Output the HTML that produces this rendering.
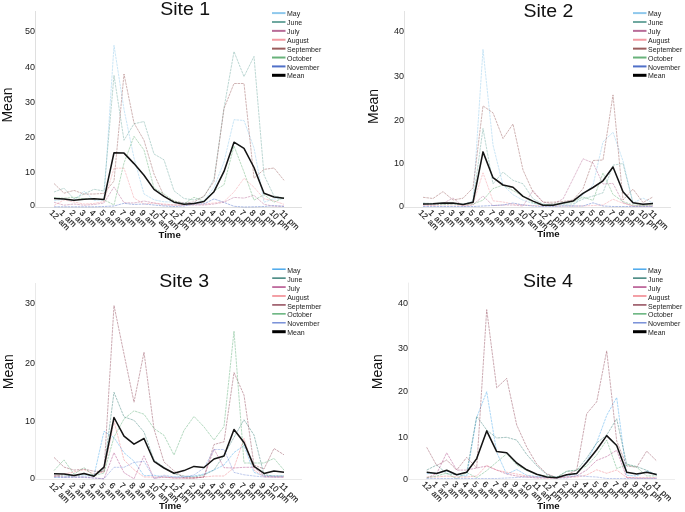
<!DOCTYPE html><html><head><meta charset="utf-8"><style>html,body{margin:0;padding:0;background:#fff;}svg{display:block;will-change:transform;}text{font-family:"Liberation Sans",sans-serif;}</style></head><body>
<svg width="685" height="512" viewBox="0 0 685 512">
<rect width="685" height="512" fill="#fff"/>
<g><line x1="35.5" y1="11" x2="35.5" y2="207.5" stroke="#dfdfdf" stroke-width="1"/><line x1="35.5" y1="207.5" x2="302" y2="207.5" stroke="#dfdfdf" stroke-width="1"/><text x="185.1" y="14.7" font-size="18.8" text-anchor="middle" textLength="49.9" lengthAdjust="spacingAndGlyphs" fill="#111">Site 1</text><text x="35.1" y="207.70" font-size="9" text-anchor="end" fill="#1a1a1a">0</text><text x="35.1" y="174.90" font-size="9" text-anchor="end" fill="#1a1a1a">10</text><text x="35.1" y="140.10" font-size="9" text-anchor="end" fill="#1a1a1a">20</text><text x="35.1" y="105.20" font-size="9" text-anchor="end" fill="#1a1a1a">30</text><text x="35.1" y="70.20" font-size="9" text-anchor="end" fill="#1a1a1a">40</text><text x="35.1" y="34.10" font-size="9" text-anchor="end" fill="#1a1a1a">50</text><text transform="translate(12.0,105.05) rotate(-90)" font-size="14" text-anchor="middle" fill="#111">Mean</text><text x="169.6" y="237.8" font-size="8.6" font-weight="bold" text-anchor="middle" textLength="22.3" lengthAdjust="spacingAndGlyphs" fill="#111">Time</text><text transform="translate(49.00,213.30) rotate(45)" font-size="8.4" word-spacing="1.3" fill="#111" stroke="#111" stroke-width="0.12">12 am</text><text transform="translate(59.00,213.30) rotate(45)" font-size="8.4" word-spacing="1.3" fill="#111" stroke="#111" stroke-width="0.12">1 am</text><text transform="translate(69.00,213.30) rotate(45)" font-size="8.4" word-spacing="1.3" fill="#111" stroke="#111" stroke-width="0.12">2 am</text><text transform="translate(79.00,213.30) rotate(45)" font-size="8.4" word-spacing="1.3" fill="#111" stroke="#111" stroke-width="0.12">3 am</text><text transform="translate(89.00,213.30) rotate(45)" font-size="8.4" word-spacing="1.3" fill="#111" stroke="#111" stroke-width="0.12">4 am</text><text transform="translate(99.00,213.30) rotate(45)" font-size="8.4" word-spacing="1.3" fill="#111" stroke="#111" stroke-width="0.12">5 am</text><text transform="translate(109.00,213.30) rotate(45)" font-size="8.4" word-spacing="1.3" fill="#111" stroke="#111" stroke-width="0.12">6 am</text><text transform="translate(119.00,213.30) rotate(45)" font-size="8.4" word-spacing="1.3" fill="#111" stroke="#111" stroke-width="0.12">7 am</text><text transform="translate(129.00,213.30) rotate(45)" font-size="8.4" word-spacing="1.3" fill="#111" stroke="#111" stroke-width="0.12">8 am</text><text transform="translate(139.00,213.30) rotate(45)" font-size="8.4" word-spacing="1.3" fill="#111" stroke="#111" stroke-width="0.12">9 am</text><text transform="translate(149.00,213.30) rotate(45)" font-size="8.4" word-spacing="1.3" fill="#111" stroke="#111" stroke-width="0.12">10 am</text><text transform="translate(159.00,213.30) rotate(45)" font-size="8.4" word-spacing="1.3" fill="#111" stroke="#111" stroke-width="0.12">11 am</text><text transform="translate(169.00,213.30) rotate(45)" font-size="8.4" word-spacing="1.3" fill="#111" stroke="#111" stroke-width="0.12">12 pm</text><text transform="translate(179.00,213.30) rotate(45)" font-size="8.4" word-spacing="1.3" fill="#111" stroke="#111" stroke-width="0.12">1 pm</text><text transform="translate(189.00,213.30) rotate(45)" font-size="8.4" word-spacing="1.3" fill="#111" stroke="#111" stroke-width="0.12">2 pm</text><text transform="translate(199.00,213.30) rotate(45)" font-size="8.4" word-spacing="1.3" fill="#111" stroke="#111" stroke-width="0.12">3 pm</text><text transform="translate(209.00,213.30) rotate(45)" font-size="8.4" word-spacing="1.3" fill="#111" stroke="#111" stroke-width="0.12">4 pm</text><text transform="translate(219.00,213.30) rotate(45)" font-size="8.4" word-spacing="1.3" fill="#111" stroke="#111" stroke-width="0.12">5 pm</text><text transform="translate(229.00,213.30) rotate(45)" font-size="8.4" word-spacing="1.3" fill="#111" stroke="#111" stroke-width="0.12">6 pm</text><text transform="translate(239.00,213.30) rotate(45)" font-size="8.4" word-spacing="1.3" fill="#111" stroke="#111" stroke-width="0.12">7 pm</text><text transform="translate(249.00,213.30) rotate(45)" font-size="8.4" word-spacing="1.3" fill="#111" stroke="#111" stroke-width="0.12">8 pm</text><text transform="translate(259.00,213.30) rotate(45)" font-size="8.4" word-spacing="1.3" fill="#111" stroke="#111" stroke-width="0.12">9 pm</text><text transform="translate(269.00,213.30) rotate(45)" font-size="8.4" word-spacing="1.3" fill="#111" stroke="#111" stroke-width="0.12">10 pm</text><text transform="translate(279.00,213.30) rotate(45)" font-size="8.4" word-spacing="1.3" fill="#111" stroke="#111" stroke-width="0.12">11 pm</text><line x1="272" y1="13.10" x2="285.5" y2="13.10" stroke="#8ec8ec" stroke-width="2"/><text x="287" y="16.20" font-size="7" fill="#222">May</text><line x1="272" y1="21.99" x2="285.5" y2="21.99" stroke="#6fa8a0" stroke-width="2"/><text x="287" y="25.09" font-size="7" fill="#222">June</text><line x1="272" y1="30.87" x2="285.5" y2="30.87" stroke="#b86c98" stroke-width="2"/><text x="287" y="33.97" font-size="7" fill="#222">July</text><line x1="272" y1="39.76" x2="285.5" y2="39.76" stroke="#f29aa2" stroke-width="2"/><text x="287" y="42.86" font-size="7" fill="#222">August</text><line x1="272" y1="48.64" x2="285.5" y2="48.64" stroke="#9a5c5c" stroke-width="2"/><text x="287" y="51.74" font-size="7" fill="#222">September</text><line x1="272" y1="57.53" x2="285.5" y2="57.53" stroke="#68b27a" stroke-width="2"/><text x="287" y="60.63" font-size="7" fill="#222">October</text><line x1="272" y1="66.42" x2="285.5" y2="66.42" stroke="#5070c8" stroke-width="2"/><text x="287" y="69.52" font-size="7" fill="#222">November</text><line x1="272" y1="75.30" x2="285.5" y2="75.30" stroke="#000" stroke-width="3"/><text x="287" y="78.40" font-size="7" fill="#222">Mean</text><polyline points="54.0,200.8 64.0,199.3 74.0,200.8 84.0,191.1 94.0,200.4 104.0,200.0 114.0,45.3 124.0,109.4 134.0,158.0 144.0,194.0 154.0,199.8 164.0,201.8 174.0,202.0 184.0,203.0 194.0,203.0 204.0,201.0 214.0,187.3 224.0,162.0 234.0,119.7 244.0,120.5 254.0,148.0 264.0,202.2 274.0,198.8 284.0,198.8" fill="none" stroke="#8ec8ec" stroke-width="0.85" stroke-opacity="0.55" stroke-dasharray="2.6 0.8" stroke-linejoin="round"/><polyline points="54.0,192.0 64.0,188.2 74.0,198.8 84.0,194.0 94.0,189.3 104.0,191.0 114.0,75.3 124.0,140.3 134.0,123.8 144.0,121.5 154.0,154.0 164.0,159.8 174.0,190.8 184.0,198.5 194.0,200.0 204.0,196.9 214.0,179.0 224.0,108.0 234.0,51.6 244.0,76.6 254.0,56.4 264.0,175.0 274.0,196.0 284.0,198.0" fill="none" stroke="#6fa8a0" stroke-width="0.85" stroke-opacity="0.55" stroke-dasharray="2.6 0.8" stroke-linejoin="round"/><polyline points="54.0,202.3 64.0,205.2 74.0,204.0 84.0,205.2 94.0,204.5 104.0,203.0 114.0,186.9 124.0,202.7 134.0,203.0 144.0,201.0 154.0,203.0 164.0,205.0 174.0,205.0 184.0,205.0 194.0,205.0 204.0,205.0 214.0,204.0 224.0,202.2 234.0,197.4 244.0,198.1 254.0,195.4 264.0,204.3 274.0,206.3 284.0,206.0" fill="none" stroke="#b86c98" stroke-width="0.85" stroke-opacity="0.55" stroke-dasharray="2.6 0.8" stroke-linejoin="round"/><polyline points="54.0,205.5 64.0,199.9 74.0,202.0 84.0,204.0 94.0,203.5 104.0,201.6 114.0,168.2 124.0,168.2 134.0,198.0 144.0,204.0 154.0,203.0 164.0,204.0 174.0,205.0 184.0,205.0 194.0,204.0 204.0,204.0 214.0,203.0 224.0,201.6 234.0,192.0 244.0,178.3 254.0,187.2 264.0,198.8 274.0,200.9 284.0,204.3" fill="none" stroke="#f29aa2" stroke-width="0.85" stroke-opacity="0.55" stroke-dasharray="2.6 0.8" stroke-linejoin="round"/><polyline points="54.0,183.5 64.0,193.2 74.0,190.4 84.0,194.1 94.0,194.0 104.0,193.4 114.0,181.0 124.0,74.0 134.0,123.0 144.0,140.3 154.0,174.0 164.0,196.0 174.0,201.0 184.0,203.0 194.0,202.0 204.0,196.0 214.0,181.5 224.0,108.5 234.0,83.5 244.0,83.5 254.0,178.3 264.0,169.4 274.0,168.0 284.0,180.3" fill="none" stroke="#9a5c5c" stroke-width="0.85" stroke-opacity="0.55" stroke-dasharray="2.6 0.8" stroke-linejoin="round"/><polyline points="54.0,197.6 64.0,198.2 74.0,197.3 84.0,198.8 94.0,198.5 104.0,199.8 114.0,205.0 124.0,163.0 134.0,136.3 144.0,150.0 154.0,188.0 164.0,194.0 174.0,201.0 184.0,203.9 194.0,197.3 204.0,201.3 214.0,191.0 224.0,184.8 234.0,146.0 244.0,172.0 254.0,200.2 264.0,194.7 274.0,202.2 284.0,197.4" fill="none" stroke="#68b27a" stroke-width="0.85" stroke-opacity="0.55" stroke-dasharray="2.6 0.8" stroke-linejoin="round"/><polyline points="54.0,206.8 64.0,206.8 74.0,206.8 84.0,206.8 94.0,206.8 104.0,206.5 114.0,206.0 124.0,203.3 134.0,204.5 144.0,204.0 154.0,205.0 164.0,206.0 174.0,206.5 184.0,206.0 194.0,204.0 204.0,203.9 214.0,198.9 224.0,202.4 234.0,206.3 244.0,207.0 254.0,206.8 264.0,206.5 274.0,205.6 284.0,206.5" fill="none" stroke="#5070c8" stroke-width="0.85" stroke-opacity="0.55" stroke-dasharray="2.6 0.8" stroke-linejoin="round"/><polyline points="54.0,198.4 64.0,198.9 74.0,200.2 84.0,199.2 94.0,198.7 104.0,199.4 114.0,152.7 124.0,153.1 134.0,163.6 144.0,175.3 154.0,189.4 164.0,196.4 174.0,202.2 184.0,204.2 194.0,203.4 204.0,201.5 214.0,191.7 224.0,171.4 234.0,142.2 244.0,148.4 254.0,167.5 264.0,193.3 274.0,196.9 284.0,198.3" fill="none" stroke="#141414" stroke-width="1.55" stroke-linejoin="round"/></g>
<g><line x1="404.5" y1="11" x2="404.5" y2="207.5" stroke="#e3e3e3" stroke-width="1"/><line x1="404.5" y1="207.5" x2="671" y2="207.5" stroke="#e3e3e3" stroke-width="1"/><text x="548.45" y="17.3" font-size="18.8" text-anchor="middle" textLength="49.9" lengthAdjust="spacingAndGlyphs" fill="#111">Site 2</text><text x="404.1" y="208.70" font-size="9" text-anchor="end" fill="#1a1a1a">0</text><text x="404.1" y="166.00" font-size="9" text-anchor="end" fill="#1a1a1a">10</text><text x="404.1" y="123.20" font-size="9" text-anchor="end" fill="#1a1a1a">20</text><text x="404.1" y="78.70" font-size="9" text-anchor="end" fill="#1a1a1a">30</text><text x="404.1" y="34.25" font-size="9" text-anchor="end" fill="#1a1a1a">40</text><text transform="translate(378.2,106.45) rotate(-90)" font-size="14" text-anchor="middle" fill="#111">Mean</text><text x="548.4" y="237.0" font-size="8.6" font-weight="bold" text-anchor="middle" textLength="22.3" lengthAdjust="spacingAndGlyphs" fill="#111">Time</text><text transform="translate(418.00,213.30) rotate(45)" font-size="8.4" word-spacing="1.3" fill="#111" stroke="#111" stroke-width="0.12">12 am</text><text transform="translate(428.00,213.30) rotate(45)" font-size="8.4" word-spacing="1.3" fill="#111" stroke="#111" stroke-width="0.12">1 am</text><text transform="translate(438.00,213.30) rotate(45)" font-size="8.4" word-spacing="1.3" fill="#111" stroke="#111" stroke-width="0.12">2 am</text><text transform="translate(448.00,213.30) rotate(45)" font-size="8.4" word-spacing="1.3" fill="#111" stroke="#111" stroke-width="0.12">3 am</text><text transform="translate(458.00,213.30) rotate(45)" font-size="8.4" word-spacing="1.3" fill="#111" stroke="#111" stroke-width="0.12">4 am</text><text transform="translate(468.00,213.30) rotate(45)" font-size="8.4" word-spacing="1.3" fill="#111" stroke="#111" stroke-width="0.12">5 am</text><text transform="translate(478.00,213.30) rotate(45)" font-size="8.4" word-spacing="1.3" fill="#111" stroke="#111" stroke-width="0.12">6 am</text><text transform="translate(488.00,213.30) rotate(45)" font-size="8.4" word-spacing="1.3" fill="#111" stroke="#111" stroke-width="0.12">7 am</text><text transform="translate(498.00,213.30) rotate(45)" font-size="8.4" word-spacing="1.3" fill="#111" stroke="#111" stroke-width="0.12">8 am</text><text transform="translate(508.00,213.30) rotate(45)" font-size="8.4" word-spacing="1.3" fill="#111" stroke="#111" stroke-width="0.12">9 am</text><text transform="translate(518.00,213.30) rotate(45)" font-size="8.4" word-spacing="1.3" fill="#111" stroke="#111" stroke-width="0.12">10 am</text><text transform="translate(528.00,213.30) rotate(45)" font-size="8.4" word-spacing="1.3" fill="#111" stroke="#111" stroke-width="0.12">11 am</text><text transform="translate(538.00,213.30) rotate(45)" font-size="8.4" word-spacing="1.3" fill="#111" stroke="#111" stroke-width="0.12">12 pm</text><text transform="translate(548.00,213.30) rotate(45)" font-size="8.4" word-spacing="1.3" fill="#111" stroke="#111" stroke-width="0.12">1 pm</text><text transform="translate(558.00,213.30) rotate(45)" font-size="8.4" word-spacing="1.3" fill="#111" stroke="#111" stroke-width="0.12">2 pm</text><text transform="translate(568.00,213.30) rotate(45)" font-size="8.4" word-spacing="1.3" fill="#111" stroke="#111" stroke-width="0.12">3 pm</text><text transform="translate(578.00,213.30) rotate(45)" font-size="8.4" word-spacing="1.3" fill="#111" stroke="#111" stroke-width="0.12">4 pm</text><text transform="translate(588.00,213.30) rotate(45)" font-size="8.4" word-spacing="1.3" fill="#111" stroke="#111" stroke-width="0.12">5 pm</text><text transform="translate(598.00,213.30) rotate(45)" font-size="8.4" word-spacing="1.3" fill="#111" stroke="#111" stroke-width="0.12">6 pm</text><text transform="translate(608.00,213.30) rotate(45)" font-size="8.4" word-spacing="1.3" fill="#111" stroke="#111" stroke-width="0.12">7 pm</text><text transform="translate(618.00,213.30) rotate(45)" font-size="8.4" word-spacing="1.3" fill="#111" stroke="#111" stroke-width="0.12">8 pm</text><text transform="translate(628.00,213.30) rotate(45)" font-size="8.4" word-spacing="1.3" fill="#111" stroke="#111" stroke-width="0.12">9 pm</text><text transform="translate(638.00,213.30) rotate(45)" font-size="8.4" word-spacing="1.3" fill="#111" stroke="#111" stroke-width="0.12">10 pm</text><text transform="translate(648.00,213.30) rotate(45)" font-size="8.4" word-spacing="1.3" fill="#111" stroke="#111" stroke-width="0.12">11 pm</text><line x1="633" y1="13.10" x2="646.5" y2="13.10" stroke="#8ec8ec" stroke-width="2"/><text x="648" y="16.20" font-size="7" fill="#222">May</text><line x1="633" y1="21.99" x2="646.5" y2="21.99" stroke="#6fa8a0" stroke-width="2"/><text x="648" y="25.09" font-size="7" fill="#222">June</text><line x1="633" y1="30.87" x2="646.5" y2="30.87" stroke="#b86c98" stroke-width="2"/><text x="648" y="33.97" font-size="7" fill="#222">July</text><line x1="633" y1="39.76" x2="646.5" y2="39.76" stroke="#f29aa2" stroke-width="2"/><text x="648" y="42.86" font-size="7" fill="#222">August</text><line x1="633" y1="48.64" x2="646.5" y2="48.64" stroke="#9a5c5c" stroke-width="2"/><text x="648" y="51.74" font-size="7" fill="#222">September</text><line x1="633" y1="57.53" x2="646.5" y2="57.53" stroke="#68b27a" stroke-width="2"/><text x="648" y="60.63" font-size="7" fill="#222">October</text><line x1="633" y1="66.42" x2="646.5" y2="66.42" stroke="#5070c8" stroke-width="2"/><text x="648" y="69.52" font-size="7" fill="#222">November</text><line x1="633" y1="75.30" x2="646.5" y2="75.30" stroke="#000" stroke-width="3"/><text x="648" y="78.40" font-size="7" fill="#222">Mean</text><polyline points="423.0,204.0 433.0,204.5 443.0,204.0 453.0,204.0 463.0,205.0 473.0,201.0 483.0,49.3 493.0,145.0 503.0,185.1 513.0,194.7 523.0,200.2 533.0,203.5 543.0,205.0 553.0,205.0 563.0,205.0 573.0,206.0 583.0,194.5 593.0,185.2 603.0,141.9 613.0,132.3 623.0,161.0 633.0,203.0 643.0,198.1 653.0,203.0" fill="none" stroke="#8ec8ec" stroke-width="0.85" stroke-opacity="0.55" stroke-dasharray="2.6 0.8" stroke-linejoin="round"/><polyline points="423.0,203.0 433.0,203.5 443.0,203.0 453.0,203.5 463.0,204.0 473.0,202.0 483.0,128.5 493.0,183.8 503.0,172.1 513.0,180.3 523.0,183.8 533.0,198.8 543.0,204.0 553.0,205.0 563.0,204.0 573.0,204.0 583.0,199.0 593.0,196.0 603.0,192.8 613.0,165.2 623.0,163.5 633.0,203.0 643.0,205.0 653.0,204.0" fill="none" stroke="#6fa8a0" stroke-width="0.85" stroke-opacity="0.55" stroke-dasharray="2.6 0.8" stroke-linejoin="round"/><polyline points="423.0,205.0 433.0,205.0 443.0,203.5 453.0,198.0 463.0,206.0 473.0,205.0 483.0,196.0 493.0,205.6 503.0,205.0 513.0,205.0 523.0,206.0 533.0,190.6 543.0,202.0 553.0,204.0 563.0,199.0 573.0,179.0 583.0,158.8 593.0,162.9 603.0,184.0 613.0,183.4 623.0,202.7 633.0,206.0 643.0,206.0 653.0,206.0" fill="none" stroke="#b86c98" stroke-width="0.85" stroke-opacity="0.55" stroke-dasharray="2.6 0.8" stroke-linejoin="round"/><polyline points="423.0,205.0 433.0,205.5 443.0,205.0 453.0,205.0 463.0,205.5 473.0,204.0 483.0,172.8 493.0,200.8 503.0,202.0 513.0,204.0 523.0,205.0 533.0,205.5 543.0,206.0 553.0,206.0 563.0,206.0 573.0,206.0 583.0,206.0 593.0,205.5 603.0,205.0 613.0,199.2 623.0,203.3 633.0,206.0 643.0,206.0 653.0,206.0" fill="none" stroke="#f29aa2" stroke-width="0.85" stroke-opacity="0.55" stroke-dasharray="2.6 0.8" stroke-linejoin="round"/><polyline points="423.0,197.3 433.0,198.5 443.0,191.6 453.0,200.0 463.0,198.2 473.0,187.9 483.0,105.9 493.0,112.8 503.0,138.5 513.0,124.0 523.0,170.0 533.0,192.0 543.0,202.2 553.0,202.2 563.0,201.5 573.0,200.0 583.0,188.7 593.0,160.5 603.0,160.0 613.0,94.9 623.0,200.0 633.0,189.1 643.0,202.5 653.0,196.9" fill="none" stroke="#9a5c5c" stroke-width="0.85" stroke-opacity="0.55" stroke-dasharray="2.6 0.8" stroke-linejoin="round"/><polyline points="423.0,204.0 433.0,204.0 443.0,204.5 453.0,204.0 463.0,204.5 473.0,204.0 483.0,200.2 493.0,188.6 503.0,185.1 513.0,190.6 523.0,196.0 533.0,203.0 543.0,205.0 553.0,204.0 563.0,203.0 573.0,202.0 583.0,197.0 593.0,200.4 603.0,173.0 613.0,194.5 623.0,201.6 633.0,205.0 643.0,205.5 653.0,205.0" fill="none" stroke="#68b27a" stroke-width="0.85" stroke-opacity="0.55" stroke-dasharray="2.6 0.8" stroke-linejoin="round"/><polyline points="423.0,206.5 433.0,206.5 443.0,206.5 453.0,206.5 463.0,206.5 473.0,206.5 483.0,206.0 493.0,205.5 503.0,205.0 513.0,203.0 523.0,205.0 533.0,206.0 543.0,206.5 553.0,206.5 563.0,206.0 573.0,206.0 583.0,206.0 593.0,202.8 603.0,206.0 613.0,206.5 623.0,206.5 633.0,206.5 643.0,206.5 653.0,206.5" fill="none" stroke="#5070c8" stroke-width="0.85" stroke-opacity="0.55" stroke-dasharray="2.6 0.8" stroke-linejoin="round"/><polyline points="423.0,203.9 433.0,203.8 443.0,203.1 453.0,203.1 463.0,204.4 473.0,202.3 483.0,151.9 493.0,177.7 503.0,185.0 513.0,187.2 523.0,196.4 533.0,201.1 543.0,205.3 553.0,205.3 563.0,203.1 573.0,201.1 583.0,193.3 593.0,187.5 603.0,180.8 613.0,167.0 623.0,191.7 633.0,202.8 643.0,204.2 653.0,203.4" fill="none" stroke="#141414" stroke-width="1.55" stroke-linejoin="round"/></g>
<g><line x1="35.5" y1="283" x2="35.5" y2="479.5" stroke="#e9e9e9" stroke-width="1"/><line x1="35.5" y1="479.5" x2="302" y2="479.5" stroke="#e9e9e9" stroke-width="1"/><text x="184.15" y="287.2" font-size="18.8" text-anchor="middle" textLength="49.9" lengthAdjust="spacingAndGlyphs" fill="#111">Site 3</text><text x="35.1" y="481.10" font-size="9" text-anchor="end" fill="#1a1a1a">0</text><text x="35.1" y="424.30" font-size="9" text-anchor="end" fill="#1a1a1a">10</text><text x="35.1" y="366.30" font-size="9" text-anchor="end" fill="#1a1a1a">20</text><text x="35.1" y="305.80" font-size="9" text-anchor="end" fill="#1a1a1a">30</text><text transform="translate(13.1,371.7) rotate(-90)" font-size="14" text-anchor="middle" fill="#111">Mean</text><text x="170.25" y="509.0" font-size="8.6" font-weight="bold" text-anchor="middle" textLength="22.3" lengthAdjust="spacingAndGlyphs" fill="#111">Time</text><text transform="translate(48.80,486.00) rotate(45)" font-size="8.4" word-spacing="1.3" fill="#111" stroke="#111" stroke-width="0.12">12 am</text><text transform="translate(58.80,486.00) rotate(45)" font-size="8.4" word-spacing="1.3" fill="#111" stroke="#111" stroke-width="0.12">1 am</text><text transform="translate(68.80,486.00) rotate(45)" font-size="8.4" word-spacing="1.3" fill="#111" stroke="#111" stroke-width="0.12">2 am</text><text transform="translate(78.80,486.00) rotate(45)" font-size="8.4" word-spacing="1.3" fill="#111" stroke="#111" stroke-width="0.12">3 am</text><text transform="translate(88.80,486.00) rotate(45)" font-size="8.4" word-spacing="1.3" fill="#111" stroke="#111" stroke-width="0.12">4 am</text><text transform="translate(98.80,486.00) rotate(45)" font-size="8.4" word-spacing="1.3" fill="#111" stroke="#111" stroke-width="0.12">5 am</text><text transform="translate(108.80,486.00) rotate(45)" font-size="8.4" word-spacing="1.3" fill="#111" stroke="#111" stroke-width="0.12">6 am</text><text transform="translate(118.80,486.00) rotate(45)" font-size="8.4" word-spacing="1.3" fill="#111" stroke="#111" stroke-width="0.12">7 am</text><text transform="translate(128.80,486.00) rotate(45)" font-size="8.4" word-spacing="1.3" fill="#111" stroke="#111" stroke-width="0.12">8 am</text><text transform="translate(138.80,486.00) rotate(45)" font-size="8.4" word-spacing="1.3" fill="#111" stroke="#111" stroke-width="0.12">9 am</text><text transform="translate(148.80,486.00) rotate(45)" font-size="8.4" word-spacing="1.3" fill="#111" stroke="#111" stroke-width="0.12">10 am</text><text transform="translate(158.80,486.00) rotate(45)" font-size="8.4" word-spacing="1.3" fill="#111" stroke="#111" stroke-width="0.12">11 am</text><text transform="translate(168.80,486.00) rotate(45)" font-size="8.4" word-spacing="1.3" fill="#111" stroke="#111" stroke-width="0.12">12 pm</text><text transform="translate(178.80,486.00) rotate(45)" font-size="8.4" word-spacing="1.3" fill="#111" stroke="#111" stroke-width="0.12">1 pm</text><text transform="translate(188.80,486.00) rotate(45)" font-size="8.4" word-spacing="1.3" fill="#111" stroke="#111" stroke-width="0.12">2 pm</text><text transform="translate(198.80,486.00) rotate(45)" font-size="8.4" word-spacing="1.3" fill="#111" stroke="#111" stroke-width="0.12">3 pm</text><text transform="translate(208.80,486.00) rotate(45)" font-size="8.4" word-spacing="1.3" fill="#111" stroke="#111" stroke-width="0.12">4 pm</text><text transform="translate(218.80,486.00) rotate(45)" font-size="8.4" word-spacing="1.3" fill="#111" stroke="#111" stroke-width="0.12">5 pm</text><text transform="translate(228.80,486.00) rotate(45)" font-size="8.4" word-spacing="1.3" fill="#111" stroke="#111" stroke-width="0.12">6 pm</text><text transform="translate(238.80,486.00) rotate(45)" font-size="8.4" word-spacing="1.3" fill="#111" stroke="#111" stroke-width="0.12">7 pm</text><text transform="translate(248.80,486.00) rotate(45)" font-size="8.4" word-spacing="1.3" fill="#111" stroke="#111" stroke-width="0.12">8 pm</text><text transform="translate(258.80,486.00) rotate(45)" font-size="8.4" word-spacing="1.3" fill="#111" stroke="#111" stroke-width="0.12">9 pm</text><text transform="translate(268.80,486.00) rotate(45)" font-size="8.4" word-spacing="1.3" fill="#111" stroke="#111" stroke-width="0.12">10 pm</text><text transform="translate(278.80,486.00) rotate(45)" font-size="8.4" word-spacing="1.3" fill="#111" stroke="#111" stroke-width="0.12">11 pm</text><line x1="272.2" y1="269.20" x2="285.7" y2="269.20" stroke="#4aa8ec" stroke-width="1.5"/><text x="287.2" y="272.80" font-size="7" fill="#222">May</text><line x1="272.2" y1="278.13" x2="285.7" y2="278.13" stroke="#3a8078" stroke-width="1.5"/><text x="287.2" y="281.73" font-size="7" fill="#222">June</text><line x1="272.2" y1="287.06" x2="285.7" y2="287.06" stroke="#b04a88" stroke-width="1.5"/><text x="287.2" y="290.66" font-size="7" fill="#222">July</text><line x1="272.2" y1="295.99" x2="285.7" y2="295.99" stroke="#f08088" stroke-width="1.5"/><text x="287.2" y="299.59" font-size="7" fill="#222">August</text><line x1="272.2" y1="304.92" x2="285.7" y2="304.92" stroke="#904858" stroke-width="1.5"/><text x="287.2" y="308.52" font-size="7" fill="#222">September</text><line x1="272.2" y1="313.85" x2="285.7" y2="313.85" stroke="#60b078" stroke-width="1.5"/><text x="287.2" y="317.45" font-size="7" fill="#222">October</text><line x1="272.2" y1="322.78" x2="285.7" y2="322.78" stroke="#7890d8" stroke-width="1.5"/><text x="287.2" y="326.38" font-size="7" fill="#222">November</text><line x1="272.2" y1="331.71" x2="285.7" y2="331.71" stroke="#000" stroke-width="3"/><text x="287.2" y="335.31" font-size="7" fill="#222">Mean</text><polyline points="54.0,477.0 64.0,477.0 74.0,476.0 84.0,476.0 94.0,475.8 104.0,431.3 114.0,437.6 124.0,452.7 134.0,461.2 144.0,475.8 154.0,475.2 164.0,477.0 174.0,477.0 184.0,477.0 194.0,476.0 204.0,474.0 214.0,470.0 224.0,465.0 234.0,452.5 244.0,445.5 254.0,472.4 264.0,476.0 274.0,476.0 284.0,476.0" fill="none" stroke="#4aa8ec" stroke-width="0.85" stroke-opacity="0.55" stroke-dasharray="2.6 0.8" stroke-linejoin="round"/><polyline points="54.0,476.0 64.0,475.0 74.0,476.0 84.0,474.0 94.0,475.0 104.0,470.0 114.0,392.3 124.0,416.9 134.0,420.3 144.0,432.0 154.0,460.0 164.0,467.3 174.0,474.0 184.0,476.0 194.0,477.0 204.0,475.0 214.0,470.0 224.0,455.0 234.0,437.3 244.0,419.7 254.0,435.0 264.0,474.8 274.0,476.0 284.0,476.0" fill="none" stroke="#3a8078" stroke-width="0.85" stroke-opacity="0.55" stroke-dasharray="2.6 0.8" stroke-linejoin="round"/><polyline points="54.0,476.0 64.0,477.0 74.0,477.0 84.0,477.0 94.0,478.0 104.0,478.8 114.0,452.7 124.0,472.7 134.0,478.8 144.0,455.8 154.0,478.5 164.0,477.0 174.0,478.0 184.0,478.0 194.0,478.0 204.0,477.0 214.0,449.0 224.0,467.7 234.0,468.0 244.0,467.3 254.0,467.3 264.0,476.0 274.0,477.0 284.0,477.0" fill="none" stroke="#b04a88" stroke-width="0.85" stroke-opacity="0.55" stroke-dasharray="2.6 0.8" stroke-linejoin="round"/><polyline points="54.0,476.3 64.0,474.0 74.0,472.0 84.0,469.6 94.0,474.0 104.0,472.0 114.0,421.2 124.0,460.0 134.0,469.7 144.0,477.0 154.0,477.0 164.0,477.0 174.0,478.0 184.0,478.0 194.0,478.0 204.0,477.0 214.0,476.0 224.0,476.0 234.0,467.7 244.0,438.5 254.0,470.1 264.0,477.0 274.0,477.0 284.0,477.0" fill="none" stroke="#f08088" stroke-width="0.85" stroke-opacity="0.55" stroke-dasharray="2.6 0.8" stroke-linejoin="round"/><polyline points="54.0,457.4 64.0,467.1 74.0,470.1 84.0,469.1 94.0,471.2 104.0,471.7 114.0,305.5 124.0,354.0 134.0,402.2 144.0,352.2 154.0,429.0 164.0,462.0 174.0,470.8 184.0,477.9 194.0,478.0 204.0,477.0 214.0,444.5 224.0,441.8 234.0,372.5 244.0,395.1 254.0,465.0 264.0,469.0 274.0,448.5 284.0,454.8" fill="none" stroke="#904858" stroke-width="0.85" stroke-opacity="0.55" stroke-dasharray="2.6 0.8" stroke-linejoin="round"/><polyline points="54.0,470.6 64.0,459.9 74.0,474.2 84.0,467.6 94.0,475.8 104.0,473.0 114.0,437.0 124.0,419.0 134.0,410.8 144.0,414.2 154.0,428.5 164.0,435.3 174.0,455.0 184.0,430.4 194.0,416.4 204.0,426.9 214.0,440.0 224.0,426.5 234.0,331.1 244.0,463.0 254.0,463.0 264.0,463.0 274.0,458.4 284.0,470.1" fill="none" stroke="#60b078" stroke-width="0.85" stroke-opacity="0.55" stroke-dasharray="2.6 0.8" stroke-linejoin="round"/><polyline points="54.0,477.5 64.0,477.5 74.0,477.5 84.0,477.5 94.0,478.0 104.0,478.8 114.0,467.3 124.0,467.3 134.0,462.4 144.0,461.2 154.0,478.2 164.0,475.2 174.0,477.0 184.0,477.0 194.0,475.0 204.0,468.0 214.0,449.5 224.0,449.5 234.0,472.4 244.0,474.8 254.0,476.0 264.0,477.0 274.0,477.0 284.0,477.0" fill="none" stroke="#7890d8" stroke-width="0.85" stroke-opacity="0.55" stroke-dasharray="2.6 0.8" stroke-linejoin="round"/><polyline points="54.0,473.8 64.0,474.1 74.0,475.6 84.0,473.4 94.0,476.2 104.0,467.2 114.0,417.5 124.0,436.2 134.0,444.1 144.0,438.5 154.0,461.3 164.0,468.0 174.0,473.3 184.0,470.6 194.0,466.4 204.0,467.5 214.0,459.0 224.0,456.0 234.0,429.5 244.0,442.5 254.0,466.4 264.0,473.4 274.0,471.1 284.0,472.2" fill="none" stroke="#141414" stroke-width="1.55" stroke-linejoin="round"/></g>
<g><line x1="408.5" y1="282.6" x2="408.5" y2="479.5" stroke="#ededed" stroke-width="1"/><line x1="408.5" y1="479.5" x2="675" y2="479.5" stroke="#ededed" stroke-width="1"/><text x="547.85" y="287.0" font-size="18.8" text-anchor="middle" textLength="49.9" lengthAdjust="spacingAndGlyphs" fill="#111">Site 4</text><text x="408.1" y="482.00" font-size="9" text-anchor="end" fill="#1a1a1a">0</text><text x="408.1" y="439.60" font-size="9" text-anchor="end" fill="#1a1a1a">10</text><text x="408.1" y="394.40" font-size="9" text-anchor="end" fill="#1a1a1a">20</text><text x="408.1" y="350.50" font-size="9" text-anchor="end" fill="#1a1a1a">30</text><text x="408.1" y="306.20" font-size="9" text-anchor="end" fill="#1a1a1a">40</text><text transform="translate(382.2,371.7) rotate(-90)" font-size="14" text-anchor="middle" fill="#111">Mean</text><text x="548.5" y="508.8" font-size="8.6" font-weight="bold" text-anchor="middle" textLength="22.3" lengthAdjust="spacingAndGlyphs" fill="#111">Time</text><text transform="translate(421.80,484.80) rotate(45)" font-size="8.4" word-spacing="1.3" fill="#111" stroke="#111" stroke-width="0.12">12 am</text><text transform="translate(431.80,484.80) rotate(45)" font-size="8.4" word-spacing="1.3" fill="#111" stroke="#111" stroke-width="0.12">1 am</text><text transform="translate(441.80,484.80) rotate(45)" font-size="8.4" word-spacing="1.3" fill="#111" stroke="#111" stroke-width="0.12">2 am</text><text transform="translate(451.80,484.80) rotate(45)" font-size="8.4" word-spacing="1.3" fill="#111" stroke="#111" stroke-width="0.12">3 am</text><text transform="translate(461.80,484.80) rotate(45)" font-size="8.4" word-spacing="1.3" fill="#111" stroke="#111" stroke-width="0.12">4 am</text><text transform="translate(471.80,484.80) rotate(45)" font-size="8.4" word-spacing="1.3" fill="#111" stroke="#111" stroke-width="0.12">5 am</text><text transform="translate(481.80,484.80) rotate(45)" font-size="8.4" word-spacing="1.3" fill="#111" stroke="#111" stroke-width="0.12">6 am</text><text transform="translate(491.80,484.80) rotate(45)" font-size="8.4" word-spacing="1.3" fill="#111" stroke="#111" stroke-width="0.12">7 am</text><text transform="translate(501.80,484.80) rotate(45)" font-size="8.4" word-spacing="1.3" fill="#111" stroke="#111" stroke-width="0.12">8 am</text><text transform="translate(511.80,484.80) rotate(45)" font-size="8.4" word-spacing="1.3" fill="#111" stroke="#111" stroke-width="0.12">9 am</text><text transform="translate(521.80,484.80) rotate(45)" font-size="8.4" word-spacing="1.3" fill="#111" stroke="#111" stroke-width="0.12">10 am</text><text transform="translate(531.80,484.80) rotate(45)" font-size="8.4" word-spacing="1.3" fill="#111" stroke="#111" stroke-width="0.12">11 am</text><text transform="translate(541.80,484.80) rotate(45)" font-size="8.4" word-spacing="1.3" fill="#111" stroke="#111" stroke-width="0.12">12 pm</text><text transform="translate(551.80,484.80) rotate(45)" font-size="8.4" word-spacing="1.3" fill="#111" stroke="#111" stroke-width="0.12">1 pm</text><text transform="translate(561.80,484.80) rotate(45)" font-size="8.4" word-spacing="1.3" fill="#111" stroke="#111" stroke-width="0.12">2 pm</text><text transform="translate(571.80,484.80) rotate(45)" font-size="8.4" word-spacing="1.3" fill="#111" stroke="#111" stroke-width="0.12">3 pm</text><text transform="translate(581.80,484.80) rotate(45)" font-size="8.4" word-spacing="1.3" fill="#111" stroke="#111" stroke-width="0.12">4 pm</text><text transform="translate(591.80,484.80) rotate(45)" font-size="8.4" word-spacing="1.3" fill="#111" stroke="#111" stroke-width="0.12">5 pm</text><text transform="translate(601.80,484.80) rotate(45)" font-size="8.4" word-spacing="1.3" fill="#111" stroke="#111" stroke-width="0.12">6 pm</text><text transform="translate(611.80,484.80) rotate(45)" font-size="8.4" word-spacing="1.3" fill="#111" stroke="#111" stroke-width="0.12">7 pm</text><text transform="translate(621.80,484.80) rotate(45)" font-size="8.4" word-spacing="1.3" fill="#111" stroke="#111" stroke-width="0.12">8 pm</text><text transform="translate(631.80,484.80) rotate(45)" font-size="8.4" word-spacing="1.3" fill="#111" stroke="#111" stroke-width="0.12">9 pm</text><text transform="translate(641.80,484.80) rotate(45)" font-size="8.4" word-spacing="1.3" fill="#111" stroke="#111" stroke-width="0.12">10 pm</text><text transform="translate(651.80,484.80) rotate(45)" font-size="8.4" word-spacing="1.3" fill="#111" stroke="#111" stroke-width="0.12">11 pm</text><line x1="633" y1="269.20" x2="646.5" y2="269.20" stroke="#4aa8ec" stroke-width="1.5"/><text x="648" y="272.80" font-size="7" fill="#222">May</text><line x1="633" y1="278.13" x2="646.5" y2="278.13" stroke="#3a8078" stroke-width="1.5"/><text x="648" y="281.73" font-size="7" fill="#222">June</text><line x1="633" y1="287.06" x2="646.5" y2="287.06" stroke="#b04a88" stroke-width="1.5"/><text x="648" y="290.66" font-size="7" fill="#222">July</text><line x1="633" y1="295.99" x2="646.5" y2="295.99" stroke="#f08088" stroke-width="1.5"/><text x="648" y="299.59" font-size="7" fill="#222">August</text><line x1="633" y1="304.92" x2="646.5" y2="304.92" stroke="#904858" stroke-width="1.5"/><text x="648" y="308.52" font-size="7" fill="#222">September</text><line x1="633" y1="313.85" x2="646.5" y2="313.85" stroke="#60b078" stroke-width="1.5"/><text x="648" y="317.45" font-size="7" fill="#222">October</text><line x1="633" y1="322.78" x2="646.5" y2="322.78" stroke="#7890d8" stroke-width="1.5"/><text x="648" y="326.38" font-size="7" fill="#222">November</text><line x1="633" y1="331.71" x2="646.5" y2="331.71" stroke="#000" stroke-width="3"/><text x="648" y="335.31" font-size="7" fill="#222">Mean</text><polyline points="426.7,473.7 436.7,473.0 446.7,471.1 456.7,474.7 466.7,476.2 476.7,417.5 486.7,391.7 496.7,452.4 506.7,474.3 516.7,469.5 526.7,475.3 536.7,476.5 546.7,477.0 556.7,477.0 566.7,476.0 576.7,474.0 586.7,461.3 596.7,442.6 606.7,415.4 616.7,397.5 626.7,475.3 636.7,476.0 646.7,471.0 656.7,474.7" fill="none" stroke="#4aa8ec" stroke-width="0.85" stroke-opacity="0.55" stroke-dasharray="2.6 0.8" stroke-linejoin="round"/><polyline points="426.7,470.1 436.7,465.0 446.7,473.7 456.7,474.7 466.7,472.6 476.7,416.2 486.7,430.0 496.7,438.0 506.7,437.3 516.7,440.1 526.7,454.5 536.7,465.7 546.7,474.5 556.7,477.7 566.7,471.3 576.7,470.5 586.7,458.0 596.7,443.0 606.7,435.0 616.7,418.8 626.7,464.1 636.7,466.6 646.7,470.3 656.7,475.3" fill="none" stroke="#3a8078" stroke-width="0.85" stroke-opacity="0.55" stroke-dasharray="2.6 0.8" stroke-linejoin="round"/><polyline points="426.7,478.0 436.7,473.6 446.7,452.8 456.7,470.1 466.7,470.1 476.7,468.0 486.7,466.0 496.7,470.0 506.7,474.0 516.7,476.0 526.7,477.0 536.7,478.0 546.7,478.0 556.7,478.0 566.7,477.0 576.7,476.0 586.7,470.0 596.7,460.4 606.7,456.5 616.7,450.3 626.7,477.5 636.7,478.0 646.7,478.0 656.7,478.0" fill="none" stroke="#b04a88" stroke-width="0.85" stroke-opacity="0.55" stroke-dasharray="2.6 0.8" stroke-linejoin="round"/><polyline points="426.7,477.0 436.7,477.0 446.7,476.0 456.7,477.0 466.7,477.0 476.7,476.0 486.7,465.4 496.7,470.2 506.7,472.2 516.7,474.0 526.7,476.0 536.7,477.0 546.7,478.0 556.7,478.0 566.7,477.0 576.7,477.0 586.7,475.0 596.7,469.8 606.7,473.3 616.7,470.0 626.7,477.5 636.7,478.0 646.7,478.0 656.7,478.0" fill="none" stroke="#f08088" stroke-width="0.85" stroke-opacity="0.55" stroke-dasharray="2.6 0.8" stroke-linejoin="round"/><polyline points="426.7,447.3 436.7,465.5 446.7,460.0 456.7,470.0 466.7,457.4 476.7,468.0 486.7,309.6 496.7,387.8 506.7,378.4 516.7,425.0 526.7,447.0 536.7,464.1 546.7,473.7 556.7,477.7 566.7,475.0 576.7,470.0 586.7,413.7 596.7,401.8 606.7,350.9 616.7,441.0 626.7,466.0 636.7,467.2 646.7,451.1 656.7,461.0" fill="none" stroke="#904858" stroke-width="0.85" stroke-opacity="0.55" stroke-dasharray="2.6 0.8" stroke-linejoin="round"/><polyline points="426.7,477.7 436.7,476.0 446.7,473.1 456.7,478.7 466.7,472.6 476.7,477.7 486.7,470.6 496.7,462.1 506.7,453.8 516.7,465.0 526.7,470.5 536.7,474.5 546.7,476.0 556.7,477.0 566.7,471.3 576.7,470.0 586.7,466.0 596.7,455.0 606.7,440.0 616.7,468.5 626.7,464.7 636.7,467.2 646.7,475.9 656.7,475.9" fill="none" stroke="#60b078" stroke-width="0.85" stroke-opacity="0.55" stroke-dasharray="2.6 0.8" stroke-linejoin="round"/><polyline points="426.7,478.5 436.7,478.5 446.7,478.5 456.7,478.5 466.7,478.5 476.7,478.5 486.7,478.5 496.7,478.5 506.7,478.0 516.7,477.5 526.7,477.0 536.7,477.0 546.7,477.5 556.7,478.0 566.7,478.0 576.7,475.7 586.7,476.5 596.7,477.0 606.7,478.5 616.7,478.5 626.7,478.5 636.7,478.5 646.7,478.5 656.7,478.5" fill="none" stroke="#7890d8" stroke-width="0.85" stroke-opacity="0.55" stroke-dasharray="2.6 0.8" stroke-linejoin="round"/><polyline points="426.7,472.2 436.7,473.4 446.7,470.3 456.7,474.7 466.7,472.2 476.7,458.6 486.7,430.9 496.7,451.6 506.7,452.8 516.7,463.0 526.7,469.8 536.7,474.2 546.7,476.9 556.7,477.8 566.7,474.7 576.7,473.4 586.7,462.2 596.7,449.7 606.7,435.6 616.7,445.5 626.7,472.2 636.7,474.0 646.7,472.2 656.7,474.4" fill="none" stroke="#141414" stroke-width="1.55" stroke-linejoin="round"/></g>
</svg></body></html>
